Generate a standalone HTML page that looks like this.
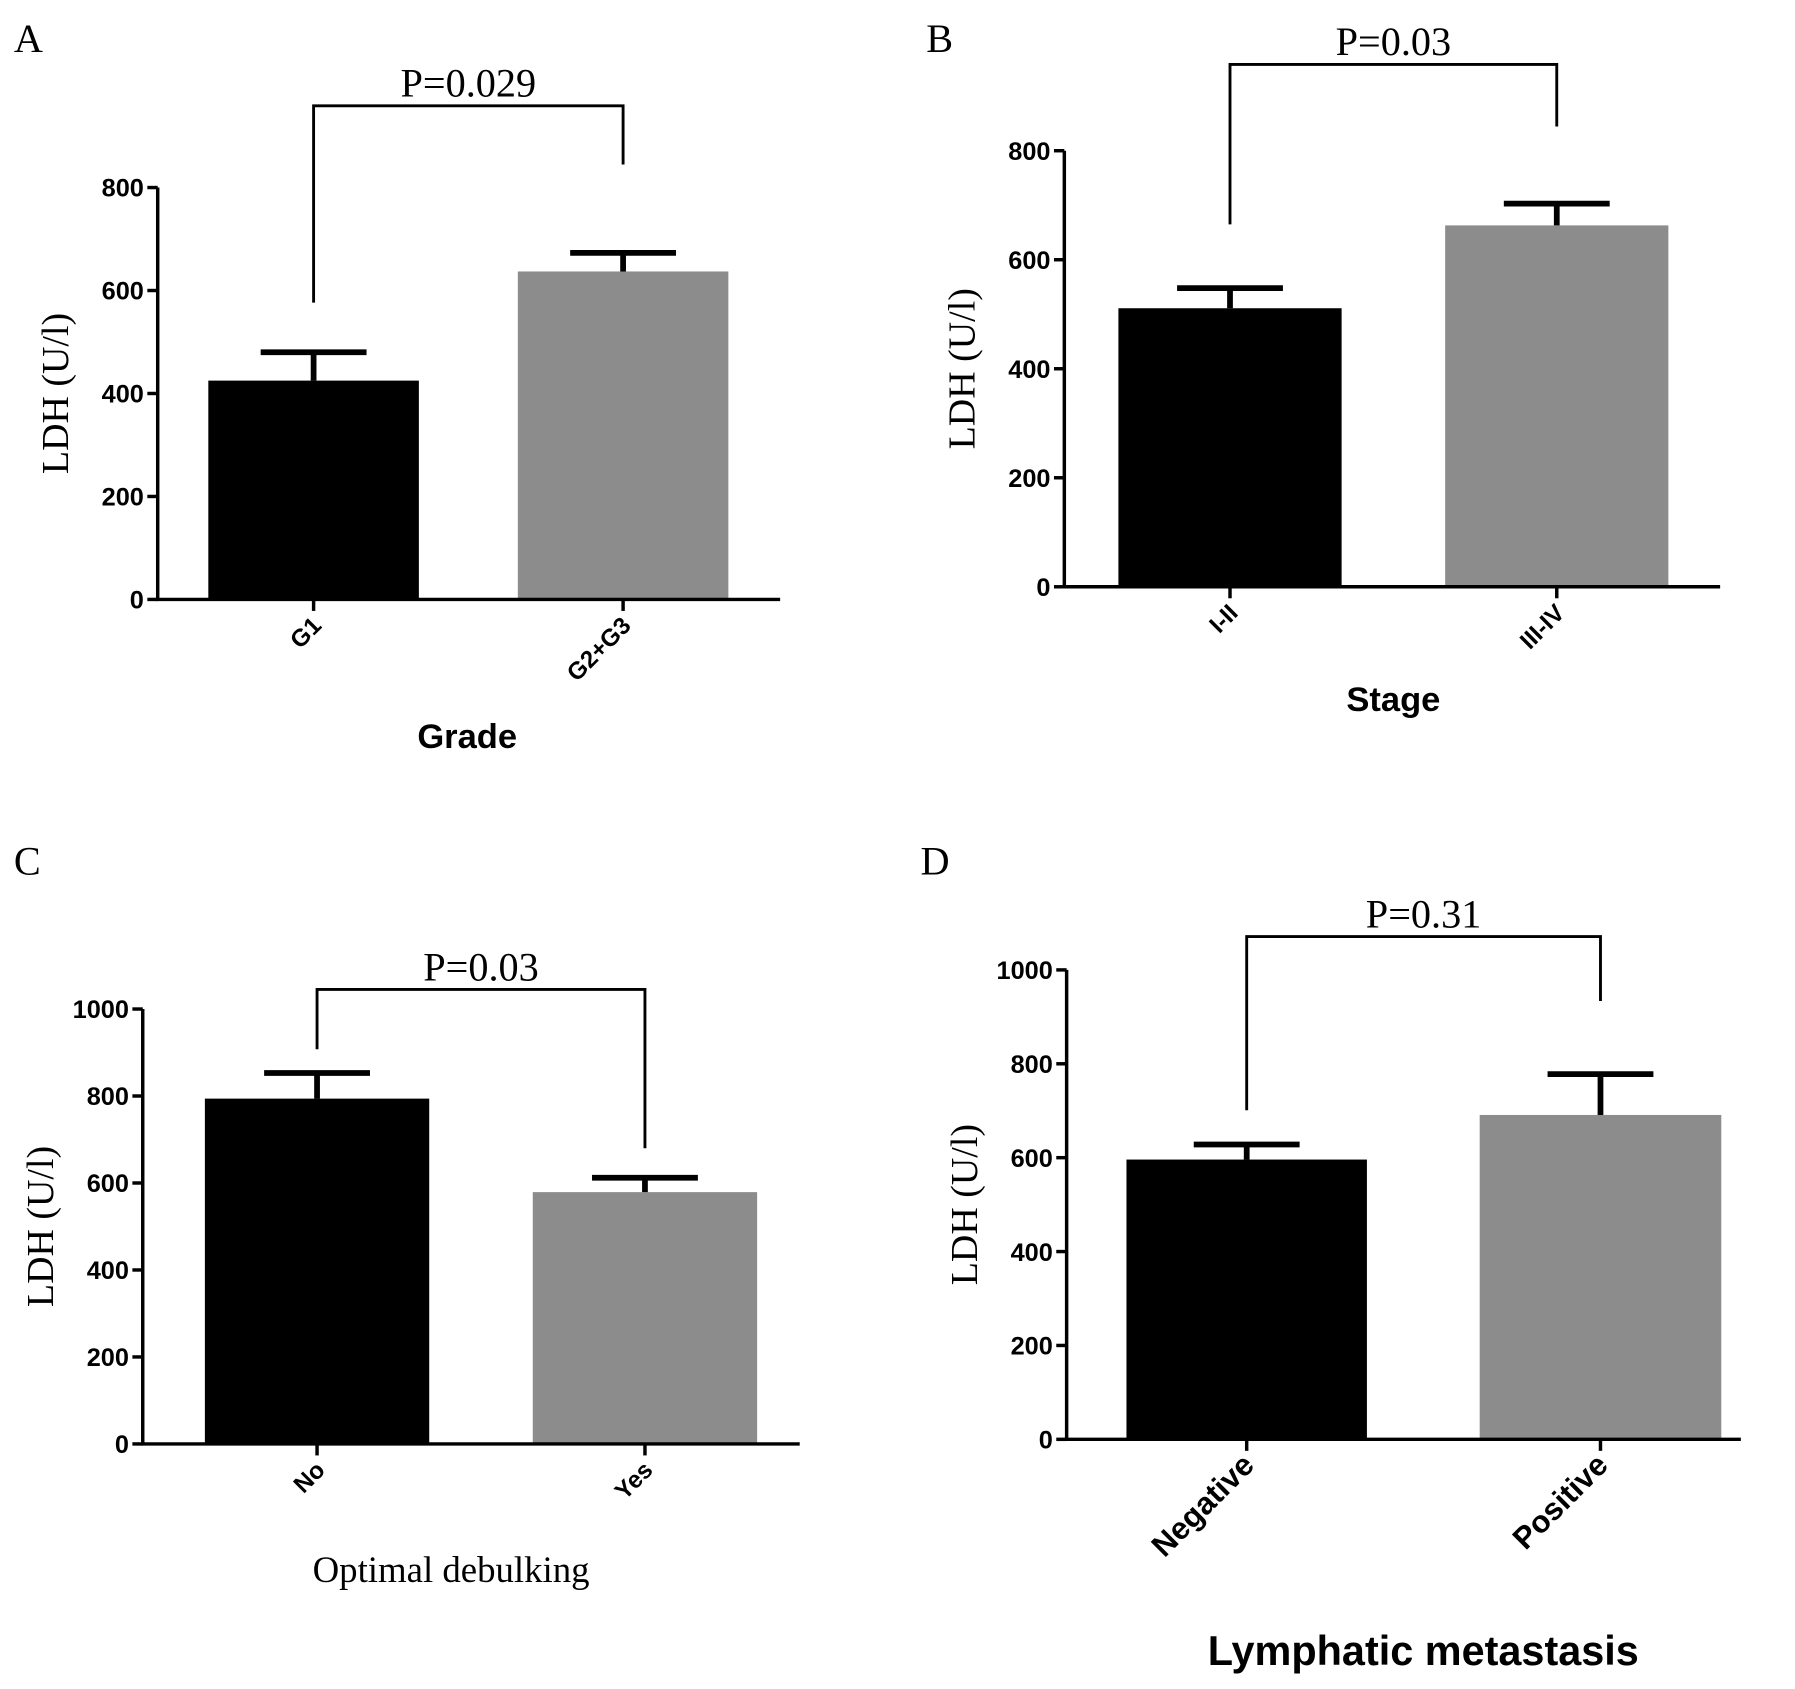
<!DOCTYPE html>
<html><head><meta charset="utf-8">
<style>html,body{margin:0;padding:0;background:#fff}svg{display:block}</style>
</head><body>
<svg id="fig" xmlns="http://www.w3.org/2000/svg" width="1795" height="1689" viewBox="0 0 1560 1468"></svg>
<script>
const catsA=["G1","G2+G3"], valsA=[425,637], errA=[480,673], ticksA=[0,200,400,600,800], pA="P=0.029";
const catsB=["I-II","III-IV"], valsB=[511,663], errB=[548,703], ticksB=[0,200,400,600,800], pB="P=0.03";
const catsC=["No","Yes"], valsC=[794,579], errC=[853,612], ticksC=[0,200,400,600,800,1000], pC="P=0.03";
const catsD=["Negative","Positive"], valsD=[596,691], errD=[628,778], ticksD=[0,200,400,600,800,1000], pD="P=0.31";
const NS="http://www.w3.org/2000/svg", svg=document.getElementById('fig');
function mk(t,a,txt){const e=document.createElementNS(NS,t);for(const k in a)e.setAttribute(k,a[k]);if(txt!==undefined)e.textContent=txt;svg.appendChild(e);return e;}
const panels=[
 {id:'a',letter:'A',lx:12,ly:45,cats:catsA,vals:valsA,errs:errA,ticks:ticksA,p:pA,ax:137,y0:521,yTop:163,max:800,xEnd:678,bars:[[181,364],[450,633]],bY:92,bDrop:[263,143],xl:"Grade",xlx:406,xly:650,xlStyle:'bold',xlSize:30,tickFs:21},
 {id:'b',letter:'B',lx:805,ly:45,cats:catsB,vals:valsB,errs:errB,ticks:ticksB,p:pB,ax:925,y0:510,yTop:131,max:800,xEnd:1495,bars:[[972,1166],[1256,1450]],bY:56,bDrop:[195,110],xl:"Stage",xlx:1211,xly:618,xlStyle:'bold',xlSize:30,tickFs:21},
 {id:'c',letter:'C',lx:12,ly:760,cats:catsC,vals:valsC,errs:errC,ticks:ticksC,p:pC,ax:124,y0:1255,yTop:877,max:1000,xEnd:695,bars:[[178,373],[463,658]],bY:860,bDrop:[912,998],xl:"Optimal debulking",xlx:392,xly:1375,xlStyle:'serif',xlSize:32,tickFs:21},
 {id:'d',letter:'D',lx:800,ly:760,cats:catsD,vals:valsD,errs:errD,ticks:ticksD,p:pD,ax:927,y0:1251,yTop:843,max:1000,xEnd:1513,bars:[[979,1188],[1286,1496]],bY:814,bDrop:[965,870],xl:"Lymphatic metastasis",xlx:1237,xly:1447,xlStyle:'bold',xlSize:36,tickFs:27}
];
const colors=['#000','#8c8c8c'];
panels.forEach(P=>{
 const y=v=>P.y0-(v/P.max)*(P.y0-P.yTop);
 let e;
 e=mk('text',{x:P.lx,y:P.ly,'font-family':'Liberation Serif, serif','font-size':35});e.textContent=P.letter;
 
 
 P.cats.forEach((c,i)=>{
  const [x1,x2]=P.bars[i], cx=(x1+x2)/2;
  e=mk('rect',{x:x1,y:y(P.vals[i]),width:x2-x1,height:P.y0-y(P.vals[i]),fill:colors[i]});
  
  
  e=mk('path',{d:`M${cx} ${y(P.vals[i])}V${y(P.errs[i])}M${cx-46} ${y(P.errs[i])}H${cx+46}`,stroke:'#000','stroke-width':5,fill:'none'});
  
  
  e=mk('line',{x1:cx,x2:cx,y1:P.y0,y2:P.y0+10,stroke:'#000','stroke-width':3});
  
  
  e=mk('text',{x:cx+8,y:P.y0+24,'text-anchor':'end','font-family':'Liberation Sans, sans-serif','font-weight':'bold','font-size':P.tickFs,transform:`rotate(-45 ${cx+8} ${P.y0+24})`},c);
  
  
 });
 e=mk('path',{d:`M${P.ax} ${P.yTop}V${P.y0}H${P.xEnd}`,stroke:'#000','stroke-width':3,fill:'none'});
 
 
 P.ticks.forEach(t=>{
  e=mk('line',{x1:P.ax-9,x2:P.ax,y1:y(t),y2:y(t),stroke:'#000','stroke-width':3});
  
  
  e=mk('text',{x:P.ax-12,y:y(t)+8,'text-anchor':'end','font-family':'Liberation Sans, sans-serif','font-weight':'bold','font-size':22},String(t));
  
  
 });
 const yc=(P.y0+P.yTop)/2, yx=P.ax-78;
 e=mk('text',{x:yx,y:yc,'text-anchor':'middle','font-family':'Liberation Serif, serif','font-size':33,transform:`rotate(-90 ${yx} ${yc})`},'LDH (U/l)');
 
 
 const c1=(P.bars[0][0]+P.bars[0][1])/2, c2=(P.bars[1][0]+P.bars[1][1])/2;
 e=mk('path',{d:`M${c1} ${P.bDrop[0]}V${P.bY}H${c2}V${P.bDrop[1]}`,stroke:'#000','stroke-width':2.5,fill:'none'});
 
 
 e=mk('text',{x:(c1+c2)/2,y:P.bY-8,'text-anchor':'middle','font-family':'Liberation Serif, serif','font-size':35},P.p);
 
 
 const isB=P.xlStyle==='bold';
 e=mk('text',{x:P.xlx,y:P.xly,'text-anchor':'middle','font-family':isB?'Liberation Sans, sans-serif':'Liberation Serif, serif','font-weight':isB?'bold':'normal','font-size':P.xlSize},P.xl);
 
 
});
</script>
</body></html>
